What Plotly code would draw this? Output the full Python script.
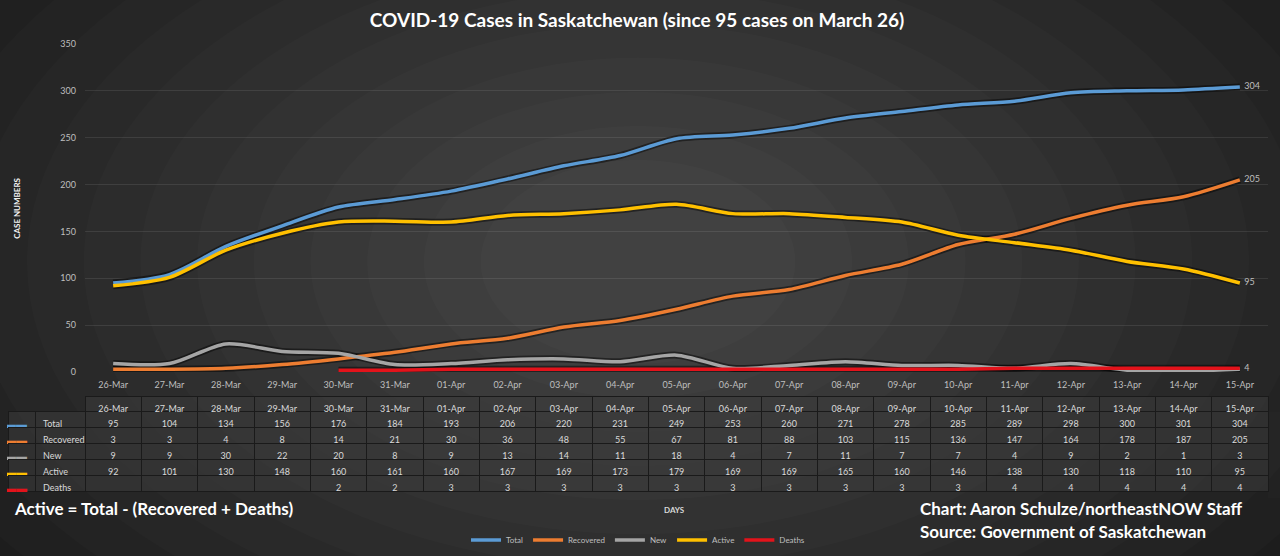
import plotly.graph_objects as go

days = ["26-Mar", "27-Mar", "28-Mar", "29-Mar", "30-Mar", "31-Mar", "01-Apr",
        "02-Apr", "03-Apr", "04-Apr", "05-Apr", "06-Apr", "07-Apr", "08-Apr",
        "09-Apr", "10-Apr", "11-Apr", "12-Apr", "13-Apr", "14-Apr", "15-Apr"]

total = [95, 104, 134, 156, 176, 184, 193, 206, 220, 231, 249, 253, 260, 271,
         278, 285, 289, 298, 300, 301, 304]
recovered = [3, 3, 4, 8, 14, 21, 30, 36, 48, 55, 67, 81, 88, 103, 115, 136,
             147, 164, 178, 187, 205]
new = [9, 9, 30, 22, 20, 8, 9, 13, 14, 11, 18, 4, 7, 11, 7, 7, 4, 9, 2, 1, 3]
active = [92, 101, 130, 148, 160, 161, 160, 167, 169, 173, 179, 169, 169, 165,
          160, 146, 138, 130, 118, 110, 95]
deaths = [None, None, None, None, 2, 2, 3, 3, 3, 3, 3, 3, 3, 3, 3, 3, 4, 4, 4,
          4, 4]

series = [
    ("Total", total, "#5b9bd5"),
    ("Recovered", recovered, "#ed7d31"),
    ("New", new, "#a5a5a5"),
    ("Active", active, "#ffc000"),
    ("Deaths", deaths, "#e3131b"),
]
end_labels = {"Total", "Recovered", "Active", "Deaths"}

FONT = "Lato"
GREY = "#bfbfbf"
TXT = "#d9d9d9"

fig = go.Figure()

# dark shadow under every line
for name, vals, col in series:
    fig.add_trace(go.Scatter(
        x=days, y=vals, mode="lines", showlegend=False, hoverinfo="skip",
        line=dict(color="rgba(0,0,0,0.45)", width=7, shape="spline", smoothing=0.8),
    ))

for name, vals, col in series:
    last = "\u2002" + str(vals[-1]) if name in end_labels else ""
    labels = [""] * (len(vals) - 1) + [last]
    fig.add_trace(go.Scatter(
        x=days, y=vals, name=name, mode="lines+text",
        text=labels, textposition="middle right",
        textfont=dict(size=9, color=GREY, family=FONT),
        line=dict(color=col, width=3.5, shape="spline", smoothing=0.8),
    ))

# data table under the chart
def fmt(v):
    return "" if v is None else str(v)

n = len(days)
names = [s[0] for s in series]
colors = [s[2] for s in series]
swatch = ["▬▬"] * len(series)
columns = [swatch, names] + [[fmt(s[1][i]) for s in series] for i in range(n)]
border = "#1a1a1a"
cell_fill = "rgba(60,60,60,0.55)"
fig.add_trace(go.Table(
    domain=dict(x=[0, 1], y=[0.0, 0.2225]),
    columnwidth=[27, 50] + [56.33] * n,
    header=dict(
        values=["", ""] + days,
        height=15,
        fill=dict(color=["rgba(0,0,0,0)"] * 2 + [cell_fill] * n),
        line=dict(color=["rgba(0,0,0,0)"] * 2 + [border] * n, width=1),
        font=dict(size=9, color=TXT, family=FONT),
        align="center",
    ),
    cells=dict(
        values=columns,
        height=16,
        fill=dict(color=cell_fill),
        line=dict(color=border, width=1),
        font=dict(size=[11, 9] + [9] * n,
                  color=[colors, [TXT] * 5] + [[TXT] * 5] * n,
                  family=FONT),
        align=["right", "left"] + ["center"] * n,
    ),
))

# soft radial background
shapes = []
for k in range(12):
    rx = 0.62 - k * 0.045
    ry = 1.05 - k * 0.075
    shapes.append(dict(
        type="circle", xref="paper", yref="paper", layer="below",
        x0=0.5 - rx, x1=0.5 + rx, y0=0.52 - ry, y1=0.52 + ry,
        fillcolor="rgba(255,255,255,0.016)", line=dict(width=0),
    ))

annotations = [
    dict(text="<b>CASE NUMBERS</b>", x=0.0071, y=0.639, xref="paper", yref="paper",
         xanchor="center", yanchor="middle", textangle=-90, showarrow=False,
         font=dict(size=8, color="#f2f2f2", family=FONT)),
    dict(text="<b>DAYS</b>", x=0.529, y=-0.0264, xref="paper", yref="paper",
         xanchor="center", yanchor="middle", showarrow=False,
         font=dict(size=8, color=TXT, family=FONT)),
    dict(text="<b>Active = Total - (Recovered + Deaths)</b>", x=0.0032, y=-0.024,
         xref="paper", yref="paper", xanchor="left", yanchor="middle", showarrow=False,
         font=dict(size=17, color="white", family=FONT)),
    dict(text="<b>Chart: Aaron Schulze/northeastNOW Staff</b>", x=0.7222, y=-0.024,
         xref="paper", yref="paper", xanchor="left", yanchor="middle", showarrow=False,
         font=dict(size=17, color="white", family=FONT)),
    dict(text="<b>Source: Government of Saskatchewan</b>", x=0.7222, y=-0.0727,
         xref="paper", yref="paper", xanchor="left", yanchor="middle", showarrow=False,
         font=dict(size=17, color="white", family=FONT)),
]

fig.update_layout(
    width=1280, height=556,
    margin=dict(l=8, r=12, t=44, b=58),
    paper_bgcolor="#1d1d1d",
    plot_bgcolor="rgba(0,0,0,0)",
    font=dict(family=FONT, color=GREY),
    title=dict(text="<b>COVID-19 Cases in Saskatchewan (since 95 cases on March 26)</b>",
               x=0.4977, y=0.964, xanchor="center", yanchor="middle",
               font=dict(size=19, color="white", family=FONT)),
    xaxis=dict(domain=[0.0611, 1.0], type="category", range=[-0.5, 20.5],
               showgrid=False, zeroline=False, showline=False,
               ticklabelstandoff=6,
               tickfont=dict(size=9, color=GREY)),
    yaxis=dict(domain=[0.2775, 1.0], range=[0, 350], dtick=50,
               gridcolor="rgba(255,255,255,0.09)", zeroline=False,
               ticklabelstandoff=8,
               tickfont=dict(size=9, color=GREY)),
    legend=dict(orientation="h", x=0.5, xanchor="center",
                yref="container", y=0.0288, yanchor="middle",
                font=dict(size=8, color=GREY), itemwidth=30, bgcolor="rgba(0,0,0,0)"),
    shapes=shapes,
    annotations=annotations,
    showlegend=True,
)

fig.write_html("out.html", config={"displayModeBar": False},
               post_script="document.body.style.margin='0';")
